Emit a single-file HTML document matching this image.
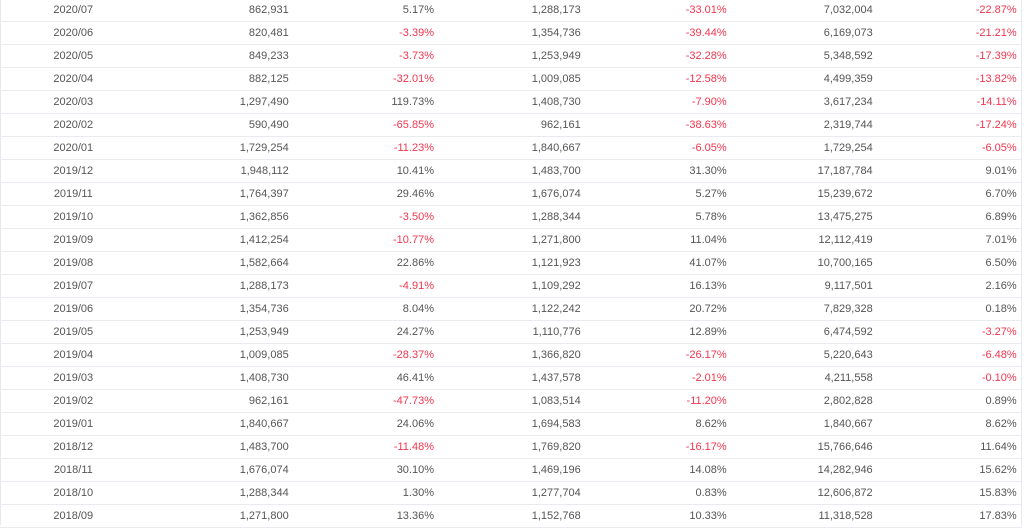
<!DOCTYPE html>
<html>
<head>
<meta charset="utf-8">
<style>
  html,body{margin:0;padding:0;background:#fff;}
  body{width:1024px;height:525px;overflow:hidden;position:relative;
       font-family:"Liberation Sans",Arial,sans-serif;font-size:11px;color:#555;}
  .vl{position:absolute;top:0;width:1px;height:525px;background:#e6e8ee;}
  .row{position:absolute;left:0;width:1022px;height:21px;border-bottom:1px solid #e9ebf0;}
  .row div{position:absolute;top:0;height:21px;line-height:21px;white-space:nowrap;text-align:right;left:0;}
  .row .a{width:146.6px;text-align:center;}
  .row .b{width:288.7px;}
  .row .c{width:434px;}
  .row .e{width:580.7px;}
  .row .f{width:726.7px;}
  .row .g{width:872.7px;}
  .row .h{width:1016.7px;}
  .row .r{color:#f2364f;}
</style>
</head>
<body>
<div class="vl" style="left:0"></div>
<div class="vl" style="left:1021px"></div>

<div class="row" style="top:0px"><div class="a">2020/07</div><div class="b">862,931</div><div class="c">5.17%</div><div class="e">1,288,173</div><div class="f r">-33.01%</div><div class="g">7,032,004</div><div class="h r">-22.87%</div></div>
<div class="row" style="top:23px"><div class="a">2020/06</div><div class="b">820,481</div><div class="c r">-3.39%</div><div class="e">1,354,736</div><div class="f r">-39.44%</div><div class="g">6,169,073</div><div class="h r">-21.21%</div></div>
<div class="row" style="top:46px"><div class="a">2020/05</div><div class="b">849,233</div><div class="c r">-3.73%</div><div class="e">1,253,949</div><div class="f r">-32.28%</div><div class="g">5,348,592</div><div class="h r">-17.39%</div></div>
<div class="row" style="top:69px"><div class="a">2020/04</div><div class="b">882,125</div><div class="c r">-32.01%</div><div class="e">1,009,085</div><div class="f r">-12.58%</div><div class="g">4,499,359</div><div class="h r">-13.82%</div></div>
<div class="row" style="top:92px"><div class="a">2020/03</div><div class="b">1,297,490</div><div class="c">119.73%</div><div class="e">1,408,730</div><div class="f r">-7.90%</div><div class="g">3,617,234</div><div class="h r">-14.11%</div></div>
<div class="row" style="top:115px"><div class="a">2020/02</div><div class="b">590,490</div><div class="c r">-65.85%</div><div class="e">962,161</div><div class="f r">-38.63%</div><div class="g">2,319,744</div><div class="h r">-17.24%</div></div>
<div class="row" style="top:138px"><div class="a">2020/01</div><div class="b">1,729,254</div><div class="c r">-11.23%</div><div class="e">1,840,667</div><div class="f r">-6.05%</div><div class="g">1,729,254</div><div class="h r">-6.05%</div></div>
<div class="row" style="top:161px"><div class="a">2019/12</div><div class="b">1,948,112</div><div class="c">10.41%</div><div class="e">1,483,700</div><div class="f">31.30%</div><div class="g">17,187,784</div><div class="h">9.01%</div></div>
<div class="row" style="top:184px"><div class="a">2019/11</div><div class="b">1,764,397</div><div class="c">29.46%</div><div class="e">1,676,074</div><div class="f">5.27%</div><div class="g">15,239,672</div><div class="h">6.70%</div></div>
<div class="row" style="top:207px"><div class="a">2019/10</div><div class="b">1,362,856</div><div class="c r">-3.50%</div><div class="e">1,288,344</div><div class="f">5.78%</div><div class="g">13,475,275</div><div class="h">6.89%</div></div>
<div class="row" style="top:230px"><div class="a">2019/09</div><div class="b">1,412,254</div><div class="c r">-10.77%</div><div class="e">1,271,800</div><div class="f">11.04%</div><div class="g">12,112,419</div><div class="h">7.01%</div></div>
<div class="row" style="top:253px"><div class="a">2019/08</div><div class="b">1,582,664</div><div class="c">22.86%</div><div class="e">1,121,923</div><div class="f">41.07%</div><div class="g">10,700,165</div><div class="h">6.50%</div></div>
<div class="row" style="top:276px"><div class="a">2019/07</div><div class="b">1,288,173</div><div class="c r">-4.91%</div><div class="e">1,109,292</div><div class="f">16.13%</div><div class="g">9,117,501</div><div class="h">2.16%</div></div>
<div class="row" style="top:299px"><div class="a">2019/06</div><div class="b">1,354,736</div><div class="c">8.04%</div><div class="e">1,122,242</div><div class="f">20.72%</div><div class="g">7,829,328</div><div class="h">0.18%</div></div>
<div class="row" style="top:322px"><div class="a">2019/05</div><div class="b">1,253,949</div><div class="c">24.27%</div><div class="e">1,110,776</div><div class="f">12.89%</div><div class="g">6,474,592</div><div class="h r">-3.27%</div></div>
<div class="row" style="top:345px"><div class="a">2019/04</div><div class="b">1,009,085</div><div class="c r">-28.37%</div><div class="e">1,366,820</div><div class="f r">-26.17%</div><div class="g">5,220,643</div><div class="h r">-6.48%</div></div>
<div class="row" style="top:368px"><div class="a">2019/03</div><div class="b">1,408,730</div><div class="c">46.41%</div><div class="e">1,437,578</div><div class="f r">-2.01%</div><div class="g">4,211,558</div><div class="h r">-0.10%</div></div>
<div class="row" style="top:391px"><div class="a">2019/02</div><div class="b">962,161</div><div class="c r">-47.73%</div><div class="e">1,083,514</div><div class="f r">-11.20%</div><div class="g">2,802,828</div><div class="h">0.89%</div></div>
<div class="row" style="top:414px"><div class="a">2019/01</div><div class="b">1,840,667</div><div class="c">24.06%</div><div class="e">1,694,583</div><div class="f">8.62%</div><div class="g">1,840,667</div><div class="h">8.62%</div></div>
<div class="row" style="top:437px"><div class="a">2018/12</div><div class="b">1,483,700</div><div class="c r">-11.48%</div><div class="e">1,769,820</div><div class="f r">-16.17%</div><div class="g">15,766,646</div><div class="h">11.64%</div></div>
<div class="row" style="top:460px"><div class="a">2018/11</div><div class="b">1,676,074</div><div class="c">30.10%</div><div class="e">1,469,196</div><div class="f">14.08%</div><div class="g">14,282,946</div><div class="h">15.62%</div></div>
<div class="row" style="top:483px"><div class="a">2018/10</div><div class="b">1,288,344</div><div class="c">1.30%</div><div class="e">1,277,704</div><div class="f">0.83%</div><div class="g">12,606,872</div><div class="h">15.83%</div></div>
<div class="row" style="top:506px"><div class="a">2018/09</div><div class="b">1,271,800</div><div class="c">13.36%</div><div class="e">1,152,768</div><div class="f">10.33%</div><div class="g">11,318,528</div><div class="h">17.83%</div></div>
</body>
</html>
